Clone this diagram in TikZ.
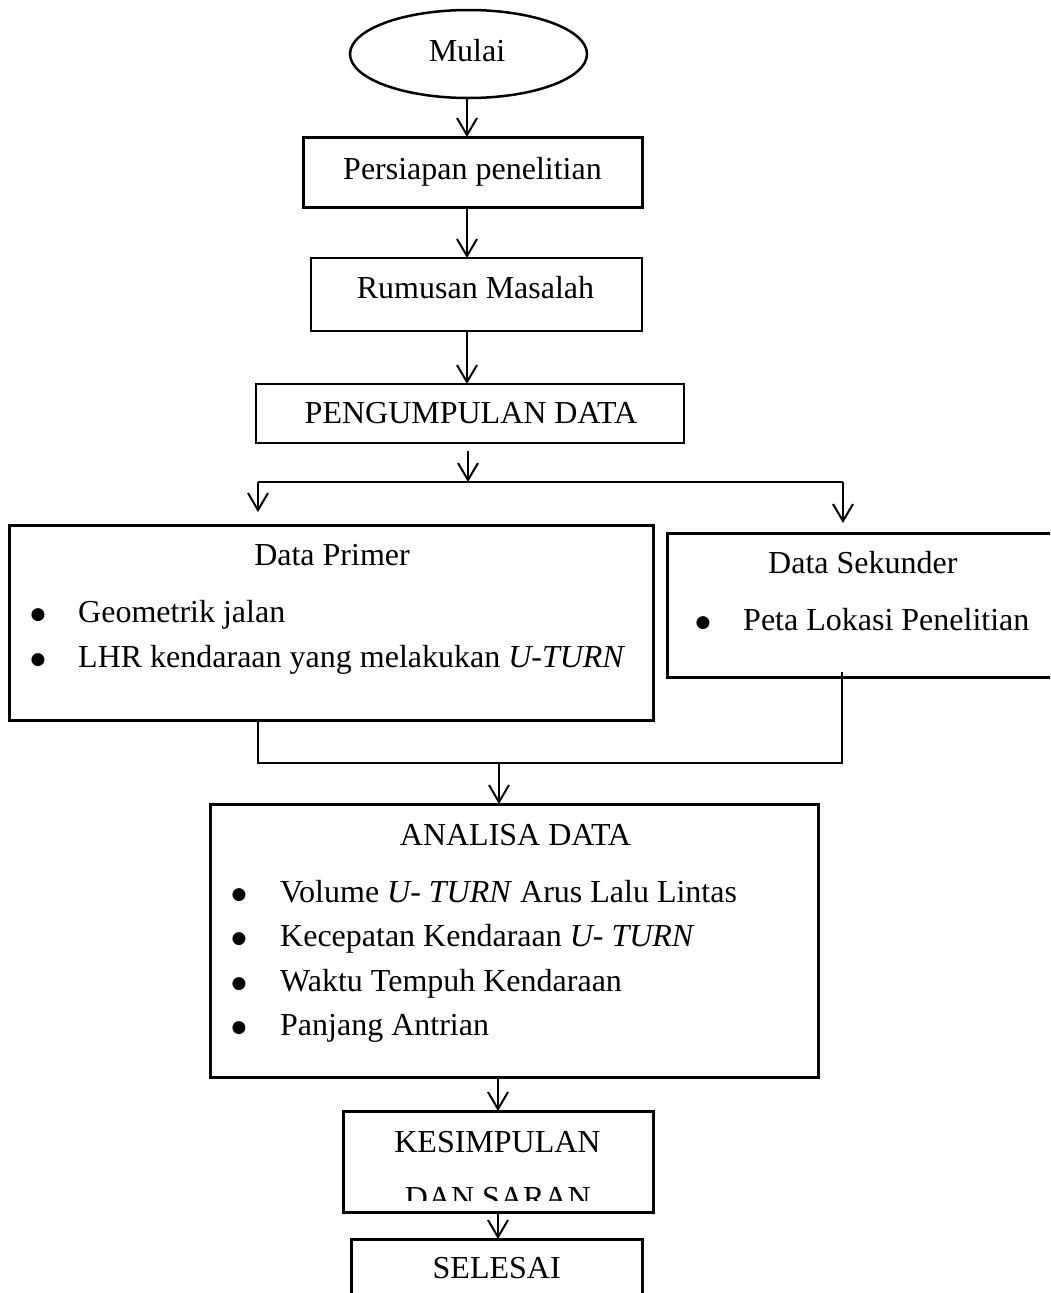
\documentclass[tikz,border=0pt]{standalone}
\usepackage{fontspec}
\setmainfont{Liberation Serif}
\newfontfamily\mysymfont{DejaVu Sans}
\usetikzlibrary{arrows.meta,shapes.geometric}
\newcommand{\mybigbul}{{\mysymfont\fontsize{17}{18}\selectfont ●}}
\begin{document}
\begin{tikzpicture}[x=1pt,y=-1pt,
  txt/.style={font=\fontsize{32}{38}\selectfont, inner sep=0pt, anchor=base},
  txtl/.style={txt, anchor=base west},
  bul/.style={txt, yshift=3pt},
  boxa/.style={draw, line width=3pt, rectangle, inner sep=0pt, outer sep=0pt, anchor=north west},
  boxthin/.style={boxa, line width=1.2pt},
  conn/.style={line width=2pt},
  arr/.style={conn, -{Straight Barb[length=17pt,width=20pt,line width=2pt]}}
]
\useasboundingbox (0,0) rectangle (1050,1293);
\clip (0,0) rectangle (1050,1293);

% start
\node[draw, ellipse, line width=2.5pt, minimum width=237pt, minimum height=88pt, inner sep=0pt, outer sep=0pt] (mulai) at (468.5,54) {};
\node[txt] (tmulai) at (467,61) {Mulai};

% boxes
\node[boxa, minimum width=339pt, minimum height=70pt] (persiapan) at (303,137) {};
\node[txt] (tpersiapan) at (472.5,179) {Persiapan penelitian};

\node[boxthin, minimum width=331pt, minimum height=73pt] (rumusan) at (311,258) {};
\node[txt] (trumusan) at (475.5,298) {Rumusan Masalah};

\node[boxa, line width=2.6pt, minimum width=428pt, minimum height=59pt] (peng) at (256,384) {};
\node[txt] (tpeng) at (471,423) {PENGUMPULAN DATA};

\node[boxa, minimum width=644pt, minimum height=195pt] (primer) at (9,525) {};
\node[txt] (tprimer) at (332,565) {Data Primer};
\node[bul] (bp1) at (38,622) {\mybigbul};
\node[txtl] (p1) at (78,622) {Geometrik jalan};
\node[bul] (bp2) at (38,667) {\mybigbul};
\node[txtl] (p2) at (78,667) {LHR kendaraan yang melakukan \textit{U-TURN}};

\node[boxa, minimum width=400pt, minimum height=144pt] (sekunder) at (667,533) {};
\node[txtl] (tsekunder) at (768,573) {Data Sekunder};
\node[bul] (bs1) at (703,630) {\mybigbul};
\node[txtl] (s1) at (743,630) {Peta Lokasi Penelitian};

\node[boxa, minimum width=608pt, minimum height=273pt] (analisa) at (210,804) {};
\node[txt] (tanalisa) at (515.5,845) {ANALISA DATA};
\node[bul] (ba1) at (239,902) {\mybigbul};
\node[txtl] (a1) at (280,902) {Volume \textit{U- TURN} Arus Lalu Lintas};
\node[bul] (ba2) at (239,946.5) {\mybigbul};
\node[txtl] (a2) at (280,946.5) {Kecepatan Kendaraan \textit{U- TURN}};
\node[bul] (ba3) at (239,991) {\mybigbul};
\node[txtl] (a3) at (280,991) {Waktu Tempuh Kendaraan};
\node[bul] (ba4) at (239,1035.5) {\mybigbul};
\node[txtl] (a4) at (280,1035.5) {Panjang Antrian};

\node[boxa, minimum width=310pt, minimum height=101pt] (kes) at (343,1111) {};
\node[txt] (tkes1) at (497.5,1152) {KESIMPULAN};
\begin{scope}
  \clip (343,1111) rectangle (653,1200);
  \node[txt] (tkes2) at (497.8,1208) {DAN SARAN};
\end{scope}

\node[boxa, minimum width=291pt, minimum height=90pt] (selesai) at (351,1239) {};
\node[txt] (tselesai) at (496.7,1278) {SELESAI};

% helper coordinates
\coordinate (colA) at (467,0);
\coordinate (split) at (468,482);
\coordinate (sl) at (258,482);
\coordinate (sr) at (843,482);
\coordinate (tl) at (258,512);
\coordinate (tr) at (843,523);
\coordinate (ml) at (258,763);
\coordinate (mr) at (842,763);
\coordinate (mm) at (499,763);
\coordinate (colB) at (498,0);

% connectors
\draw[arr] (mulai.south -| colA) -- (persiapan.north -| colA);
\draw[arr] (persiapan.south -| colA) -- (rumusan.north -| colA);
\draw[arr] (rumusan.south -| colA) -- (peng.north -| colA);
\draw[arr] ([yshift=-8pt]peng.south -| split) -- (split);
\draw[conn] (sl) -- (sr);
\draw[arr] (sl) -- (tl);
\draw[arr] (sr) -- (tr);
\draw[conn, line width=1.6pt] (primer.south -| ml) -- (ml) -- (mr) -- ([yshift=5pt]sekunder.south -| mr);
\draw[arr] (mm) -- (analisa.north -| mm);
\draw[arr] (analisa.south -| colB) -- (kes.north -| colB);
\draw[arr] (kes.south -| colB) -- (selesai.north -| colB);
\end{tikzpicture}
\end{document}
